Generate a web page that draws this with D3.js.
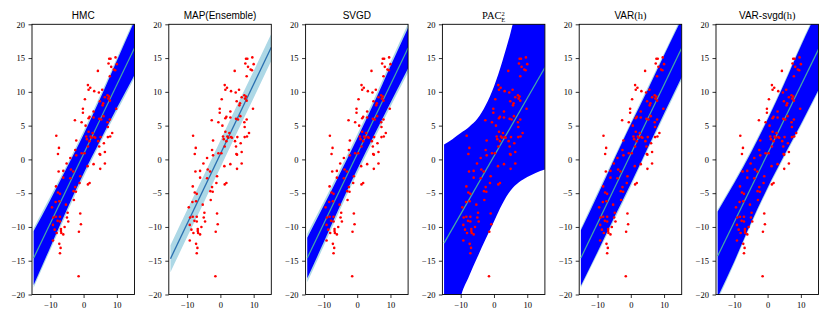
<!DOCTYPE html>
<html>
<head>
<meta charset="utf-8">
<script src="https://cdn.jsdelivr.net/npm/d3@7"></script>
<style>
  body { margin: 0; background: #fff; }
</style>
</head>
<body>
<div id="chart"></div>
<script>
// panel titles (PAC is written with sub/superscripts below)
var titles = ["HMC", "MAP(Ensemble)", "SVGD", "PAC", "VAR(h)", "VAR-svgd(h)"];

// observed data (same in every panel)
var pointsX = [9.6,7.7,8.1,7.5,10.0,8.3,9.1,9.5,4.3,7.9,
  1.3,2.0,1.5,3.2,5.6,4.6,7.2,7.7,6.4,7.4,
  7.9,0.4,4.9,5.9,5.7,9.8,-0.2,-0.2,3.0,1.8,
  1.5,3.0,6.0,4.7,5.3,-2.6,7.9,-0.6,7.2,0.6,
  7.3,1.5,2.7,8.6,-8.2,0.8,2.1,2.4,5.1,3.2,
  7.3,8.0,1.0,3.5,1.8,4.4,-2.2,6.1,-7.4,4.7,
  1.3,-2.5,-7.7,4.8,5.0,-2.2,-0.6,0.3,-4.0,6.4,
  -5.1,3.0,6.4,1.2,5.0,-7.5,-6.1,-3.8,-3.1,-6.1,
  -4.0,-1.0,-1.2,1.3,1.8,-8.3,-2.5,-3.0,-2.3,-7.7,
  -7.1,-2.9,-8.4,-7.3,-5.3,-9.5,-1.0,-4.8,-5.0,-9.1,
  -8.3,-7.1,-7.8,-7.1,-4.6,-0.8,-9.2,-5.7,-8.7,-6.8,
  -6.8,-8.1,-6.7,-6.1,-1.4,-9.2,-7.3,-6.9,-7.1,-1.5];
var pointsY = [15.1,14.9,14.9,14.2,14.1,13.7,13.3,13.2,13.1,12.3,
  11.0,10.6,10.3,10.1,10.3,9.9,9.5,9.3,9.2,9.0,
  8.7,8.9,8.6,8.3,8.0,7.5,7.5,6.9,7.1,6.3,
  6.1,6.2,6.4,6.0,5.9,5.8,5.9,5.5,5.5,5.0,
  4.8,4.1,3.9,3.9,3.5,3.4,3.4,3.2,3.3,3.3,
  3.3,3.4,3.0,3.2,2.7,2.7,2.8,2.4,1.7,1.9,
  1.9,1.4,0.8,0.8,0.7,0.6,0.9,0.9,0.2,1.1,
  -0.6,-0.7,-0.6,-1.0,-1.4,-1.8,-1.7,-1.5,-1.8,-2.7,
  -2.8,-2.5,-3.5,-3.7,-3.5,-4.0,-4.1,-4.7,-4.8,-4.9,
  -5.1,-6.0,-6.3,-6.2,-6.7,-7.1,-8.0,-7.9,-8.6,-8.6,
  -8.5,-8.5,-9.1,-9.2,-9.2,-9.6,-9.7,-10.0,-10.4,-10.3,
  -10.6,-10.9,-10.9,-11.1,-10.7,-12.0,-12.5,-13.1,-13.9,-17.3];

// predictive mean line: y at x = -15 and x = 15.3
var lineX = [-15, 15.3];
var lineY = [[-14.6, 16.5], [-14.7, 16.6], [-14.6, 16.5], [-12.4, 13.6], [-14.6, 16.5], [-14.3, 16.3]];

// band edges read at these x
var bandX = [-15, -10, -5, 0, 5, 10, 15.3];
// dark blue band (null = none)
var innerLo = [[-18.6,-13.0,-7.4,-2.1,2.8,7.6,12.5], null, [-17.6,-12.2,-6.7,-1.5,3.5,8.4,13.5],
  null, [-18.7,-13.7,-8.6,-3.6,1.6,6.8,12.2], [-20.4,-15.1,-9.4,-4.2,0.6,5.2,10.3]];
var innerHi = [[-10.6,-6.0,-1.2,3.7,9.0,14.6,20.5], null, [-11.6,-6.8,-1.9,3.1,8.3,13.8,19.5],
  null, [-10.5,-5.3,0.0,5.2,10.2,15.4,20.8], [-7.7,-3.5,1.0,5.9,11.2,16.8,22.3]];
// light blue band
var outerLo = [[-19.0,-13.4,-7.9,-2.6,2.4,7.1,12.1], [-16.7,-11.5,-6.4,-1.2,4.0,9.1,14.6], [-18.2,-12.8,-7.3,-2.1,2.9,7.8,12.9],
  null, [-19.0,-14.0,-9.0,-4.0,1.3,6.4,11.8], [-20.8,-15.4,-9.7,-4.5,0.3,4.9,10.0]];
var outerHi = [[-10.2,-5.5,-0.8,4.2,9.5,15.0,20.9], [-12.7,-7.5,-2.4,2.8,8.0,13.1,18.6], [-11.0,-6.2,-1.3,3.7,8.9,14.4,20.1],
  null, [-10.2,-4.9,0.3,5.5,10.6,15.7,21.2], [-7.4,-3.2,1.3,6.2,11.5,17.1,22.6]];

// PAC band is curved, read on a finer grid
var pacX = [-15, -12.5, -10, -7.5, -5, -2.5, 0, 2.5, 5, 7.5, 10, 12.5, 15.3];
var pacLo = [-35, -27, -20.4, -17.3, -14.5, -11.8, -9.2, -6.6, -4.6, -3.4, -2.6, -2.0, -1.5];
var pacHi = [2.2, 3.0, 3.9, 4.8, 6.0, 8.0, 10.8, 14.5, 18.8, 24, 30, 36, 42];

var yTicks = [-20, -15, -10, -5, 0, 5, 10, 15, 20];
var xTicks = [-10, 0, 10];

var margin = {top: 24.3, left: 32},
    panelW = 102.5,
    panelH = 270.2,
    step = 136.8;

var svg = d3.select("#chart")
  .append("svg")
    .attr("width", 830)
    .attr("height", 320);

var x = d3.scaleLinear().domain([-15.5, 15.3]).range([0, panelW]);
var y = d3.scaleLinear().domain([-20, 20]).range([panelH, 0]);

function band(xs, lo, hi) {
  return d3.area()
    .x(function(d, k) { return x(xs[k]); })
    .y0(function(d, k) { return y(lo[k]); })
    .y1(function(d, k) { return y(hi[k]); })
    .curve(d3.curveMonotoneX)(lo);
}

titles.forEach(function(t, i) {
  var g = svg.append("g")
    .attr("transform", "translate(" + (margin.left + i * step) + "," + margin.top + ")");

  g.append("clipPath").attr("id", "clip" + i)
    .append("rect").attr("width", panelW).attr("height", panelH);

  var plot = g.append("g").attr("clip-path", "url(#clip" + i + ")");

  if (outerLo[i]) {
    plot.append("path").attr("d", band(bandX, outerLo[i], outerHi[i])).attr("fill", "#add8e6");
  }
  if (innerLo[i]) {
    plot.append("path").attr("d", band(bandX, innerLo[i], innerHi[i])).attr("fill", "#0000ff");
  }
  if (i == 3) {
    plot.append("path").attr("d", band(pacX, pacLo, pacHi)).attr("fill", "#0000ff");
  }

  plot.append("line")
    .attr("x1", x(lineX[0])).attr("y1", y(lineY[i][0]))
    .attr("x2", x(lineX[1])).attr("y2", y(lineY[i][1]))
    .attr("stroke", i == 1 ? "#2a6fb0" : "#45aaa6")
    .attr("stroke-width", i == 1 ? 1.3 : 1.2);

  plot.selectAll("circle")
    .data(pointsX)
    .enter()
    .append("circle")
      .attr("cx", function(d) { return x(d); })
      .attr("cy", function(d, k) { return y(pointsY[k]); })
      .attr("r", 1.3)
      .attr("fill", "#ff0000");

  // axes
  var ya = g.append("g")
    .call(d3.axisLeft(y).tickValues(yTicks).tickSize(3.5).tickPadding(3.5));
  var xa = g.append("g")
    .attr("transform", "translate(0," + panelH + ")")
    .call(d3.axisBottom(x).tickValues(xTicks).tickSize(3.5).tickPadding(3.5));
  [ya, xa].forEach(function(a) {
    a.attr("font-family", "'Liberation Serif', serif").attr("font-size", 8.5);
    a.select(".domain").remove();
    a.selectAll("line").attr("stroke", "#000").attr("stroke-width", 0.8);
    a.selectAll("text").attr("fill", "#000");
  });

  g.append("rect")
    .attr("width", panelW).attr("height", panelH)
    .attr("fill", "none").attr("stroke", "#000").attr("stroke-width", 0.9);

  // title
  var tt = g.append("text")
    .attr("x", panelW / 2).attr("y", -5)
    .attr("text-anchor", "middle")
    .style("font-family", "'Liberation Sans', Arial, sans-serif")
    .style("font-size", "10px");
  if (i == 3) {
    tt.style("font-family", "'Liberation Serif', serif").style("font-size", "10.5px");
    tt.append("tspan").text("PAC");
    tt.append("tspan").attr("dy", -3.8).style("font-size", "6.5px").text("2");
    tt.append("tspan").attr("dx", -3.6).attr("dy", 6.3).style("font-size", "6.5px").text("E");
  } else if (t.slice(-3) == "(h)") {
    tt.append("tspan").text(t.slice(0, -3));
    tt.append("tspan").style("font-family", "'Liberation Serif', serif").style("font-size", "10.5px").text("(h)");
  } else {
    tt.text(t);
  }
});
</script>
</body>
</html>
